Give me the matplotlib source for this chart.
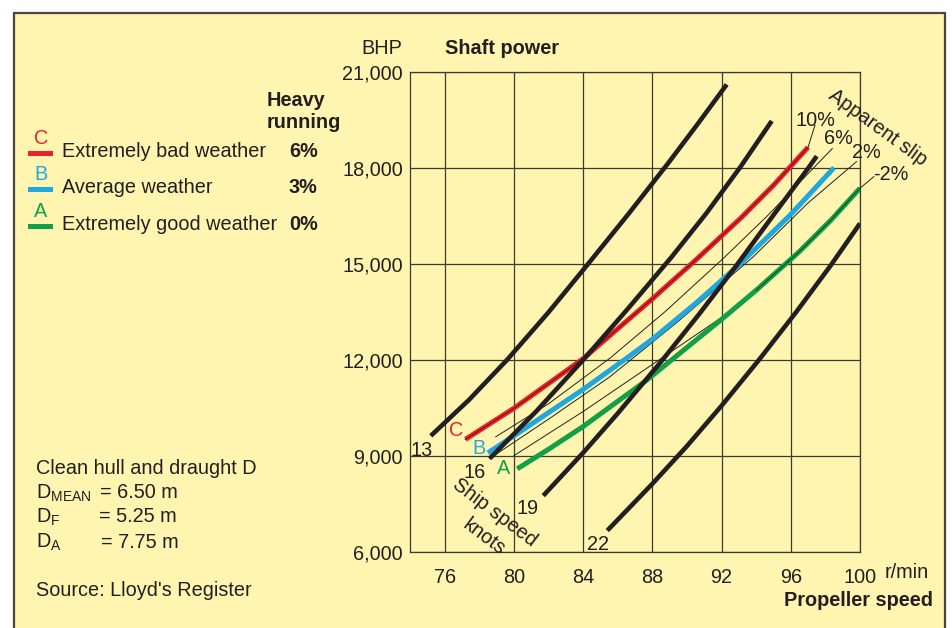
import matplotlib
matplotlib.use("Agg")
import matplotlib.pyplot as plt
from matplotlib.patches import Rectangle

plt.rcParams['font.family'] = ['Liberation Sans', 'DejaVu Sans']
plt.rcParams['mathtext.fontset'] = 'custom'
plt.rcParams['mathtext.rm'] = 'Liberation Sans'

# ship speed lines (rpm, BHP)
speed_labels = ["13", "16", "19", "22"]
rpm_13 = [75.2, 77.4, 79.6, 82.0, 84.3, 86.6, 88.9, 90.6, 92.3]
bhp_13 = [9620, 10740, 11990, 13480, 15000, 16540, 18130, 19350, 20600]
rpm_16 = [78.6, 81.3, 84.0, 86.6, 89.1, 91.1, 93.1, 94.9]
bhp_16 = [8910, 10390, 11990, 13600, 15200, 16560, 18030, 19460]
rpm_19 = [81.7, 84.0, 86.0, 88.6, 90.7, 92.8, 95.0, 97.0, 97.5]
bhp_19 = [7750, 9090, 10320, 12000, 13420, 14900, 16520, 17980, 18360]
rpm_22 = [85.4, 88.0, 90.0, 92.0, 94.2, 96.3, 98.3, 100.0]
bhp_22 = [6660, 8120, 9300, 10560, 12020, 13480, 14940, 16260]

# weather curves
rpm_c = [77.2, 80.0, 84.0, 88.0, 90.5, 93.1, 95.0, 97.0]
bhp_c = [9510, 10480, 12030, 13900, 15110, 16420, 17450, 18640]
rpm_b = [78.5, 80.0, 84.0, 86.5, 88.0, 90.5, 93.0, 96.0, 98.5]
bhp_b = [9090, 9620, 11070, 12040, 12640, 13760, 14960, 16540, 18000]
rpm_a = [80.2, 82.0, 84.0, 87.7, 92.0, 94.0, 96.5, 98.3, 100.0]
bhp_a = [8590, 9200, 9910, 11370, 13260, 14170, 15380, 16350, 17360]

# apparent slip lines (thin), last point = leader end at label
rpm_s10 = [77.2, 80.0, 84.0, 88.0, 90.5, 93.1, 95.0, 97.0, 97.4]
bhp_s10 = [9510, 10480, 12030, 13900, 15110, 16420, 17450, 18640, 19330]
rpm_s6 = [78.95, 82.0, 85.56, 88.8, 92.11, 94.62, 98.4]
bhp_s6 = [9590, 10620, 12050, 13530, 15170, 16480, 18600]
rpm_s2 = [78.6, 82.0, 85.56, 89.5, 93.84, 97.0, 99.8]
bhp_s2 = [8910, 10140, 11470, 13200, 15220, 16900, 18190]
rpm_sm2 = [80.0, 84.0, 88.0, 92.0, 94.0, 96.5, 98.3, 100.0, 100.8]
bhp_sm2 = [9000, 10380, 11850, 13320, 14170, 15380, 16350, 17360, 17720]

x_ticks = [76, 80, 84, 88, 92, 96, 100]
y_ticks = [6000, 9000, 12000, 15000, 18000, 21000]

legend_rows = [("C", "Extremely bad weather", "6%"),
               ("B", "Average weather", "3%"),
               ("A", "Extremely good weather", "0%")]

W, H = 952, 628
BG = "#fff5b0"
INK = "#231f20"
GRID = "#3d3a30"
RED = "#e8212b"
BLUE = "#1fa8e0"
GREEN = "#10a048"


def fx(x):
    return x / W


def fy(y):
    return 1 - y / H


fig = plt.figure(figsize=(W / 100, H / 100), dpi=100, facecolor="white")
fig.patches.append(Rectangle((fx(14), -0.1), fx(945) - fx(14), fy(13) + 0.1,
                             transform=fig.transFigure, facecolor=BG,
                             edgecolor="#4a463c", lw=1.6, zorder=-10))

ax = fig.add_axes([fx(410), fy(551.7), fx(860) - fx(410), fy(71.7) - fy(551.7)])
ax.set_zorder(2)
ax.set_facecolor("none")
ax.set_xlim(74, 100)
ax.set_ylim(6000, 21000)
for s in ax.spines.values():
    s.set_color(GRID)
    s.set_linewidth(0.9)
ax.set_xticks(x_ticks)
ax.set_yticks(y_ticks)
ax.set_xticklabels([str(t) for t in x_ticks])
ax.set_yticklabels([f"{t:,}" for t in y_ticks])
ax.tick_params(length=0, labelsize=14.3, colors=INK, pad=5)
ax.tick_params(axis="x", pad=12)
ax.grid(True, color=GRID, lw=0.9)
ax.set_axisbelow(True)

# slip lines
for r, b in [(rpm_s10, bhp_s10), (rpm_s6, bhp_s6), (rpm_s2, bhp_s2), (rpm_sm2, bhp_sm2)]:
    ax.plot(r, b, color=INK, lw=0.7, clip_on=False, zorder=3)

# weather curves
ax.plot(rpm_c, bhp_c, color=RED, lw=3.6, solid_capstyle="butt", zorder=4)
ax.plot(rpm_b, bhp_b, color=BLUE, lw=3.6, solid_capstyle="butt", zorder=4)
ax.plot(rpm_a, bhp_a, color=GREEN, lw=3.6, solid_capstyle="butt", zorder=4)
ax.plot(rpm_s10[:-1], bhp_s10[:-1], color="#5a1010", lw=0.6, zorder=5)
ax.plot(rpm_sm2[4:-1], bhp_sm2[4:-1], color="#0a3a1a", lw=0.6, zorder=5)

# ship speed lines
for r, b in [(rpm_13, bhp_13), (rpm_16, bhp_16), (rpm_19, bhp_19), (rpm_22, bhp_22)]:
    ax.plot(r, b, color=INK, lw=3.3, solid_capstyle="butt", zorder=6)

ft = dict(color=INK, fontsize=14.3)
fig.text(fx(402), fy(48), "BHP", ha="right", va="center", **ft)
fig.text(fx(445), fy(48), "Shaft power", ha="left", va="center", fontweight="bold", **ft)
fig.text(fx(885), fy(573), "r/min", ha="left", va="center", **ft)
fig.text(fx(933), fy(600), "Propeller speed", ha="right", va="center", fontweight="bold", **ft)

fig.text(fx(267), fy(101), "Heavy", ha="left", va="center", fontweight="bold", **ft)
fig.text(fx(267), fy(123), "running", ha="left", va="center", fontweight="bold", **ft)
row_y = [152, 188, 225]
row_col = [RED, BLUE, GREEN]
for (letter, txt, pct), y, c in zip(legend_rows, row_y, row_col):
    fig.text(fx(41), fy(y - 13), letter, ha="center", va="center", color=c, fontsize=14.3)
    fig.patches.append(Rectangle((fx(28), fy(y + 4)), fx(53) - fx(28), 5 / H,
                                 transform=fig.transFigure, facecolor=c, lw=0))
    fig.text(fx(62), fy(y), txt, ha="left", va="center", **ft)
    fig.text(fx(289), fy(y), pct, ha="left", va="center", fontweight="bold", **ft)

fig.text(fx(36), fy(468), "Clean hull and draught D", ha="left", va="center", **ft)
fig.text(fx(36), fy(493), r"D$_{\mathrm{MEAN}}$", ha="left", va="center", **ft)
fig.text(fx(100), fy(493), "= 6.50 m", ha="left", va="center", **ft)
fig.text(fx(36), fy(517), r"D$_{\mathrm{F}}$", ha="left", va="center", **ft)
fig.text(fx(99), fy(517), "= 5.25 m", ha="left", va="center", **ft)
fig.text(fx(36), fy(542), r"D$_{\mathrm{A}}$", ha="left", va="center", **ft)
fig.text(fx(101), fy(542), "= 7.75 m", ha="left", va="center", **ft)
fig.text(fx(36), fy(590), "Source: Lloyd's Register", ha="left", va="center", **ft)

# curve labels
for lab, (x, y) in zip(speed_labels, [(422, 450), (475, 473), (528, 508), (598, 544)]):
    fig.text(fx(x), fy(y), lab, ha="center", va="center", **ft)
fig.text(fx(495), fy(513), "Ship speed", ha="center", va="center", rotation=-37, **ft)
fig.text(fx(484), fy(537), "knots", ha="center", va="center", rotation=-37, **ft)
fig.text(fx(456), fy(431), "C", ha="center", va="center", color=RED, fontsize=14.3)
fig.text(fx(479), fy(448), "B", ha="center", va="center", color=BLUE, fontsize=14.3)
fig.text(fx(504), fy(468), "A", ha="center", va="center", color=GREEN, fontsize=14.3)

for lab, (x, y) in zip(["10%", "6%", "2%", "-2%"], [(815, 120), (838, 138), (866, 153), (891, 175)]):
    fig.text(fx(x), fy(y), lab, ha="center", va="center", **ft)
fig.text(fx(878), fy(128), "Apparent slip", ha="center", va="center", rotation=-36, **ft)

fig.savefig("out.png", dpi=100, facecolor="white")
